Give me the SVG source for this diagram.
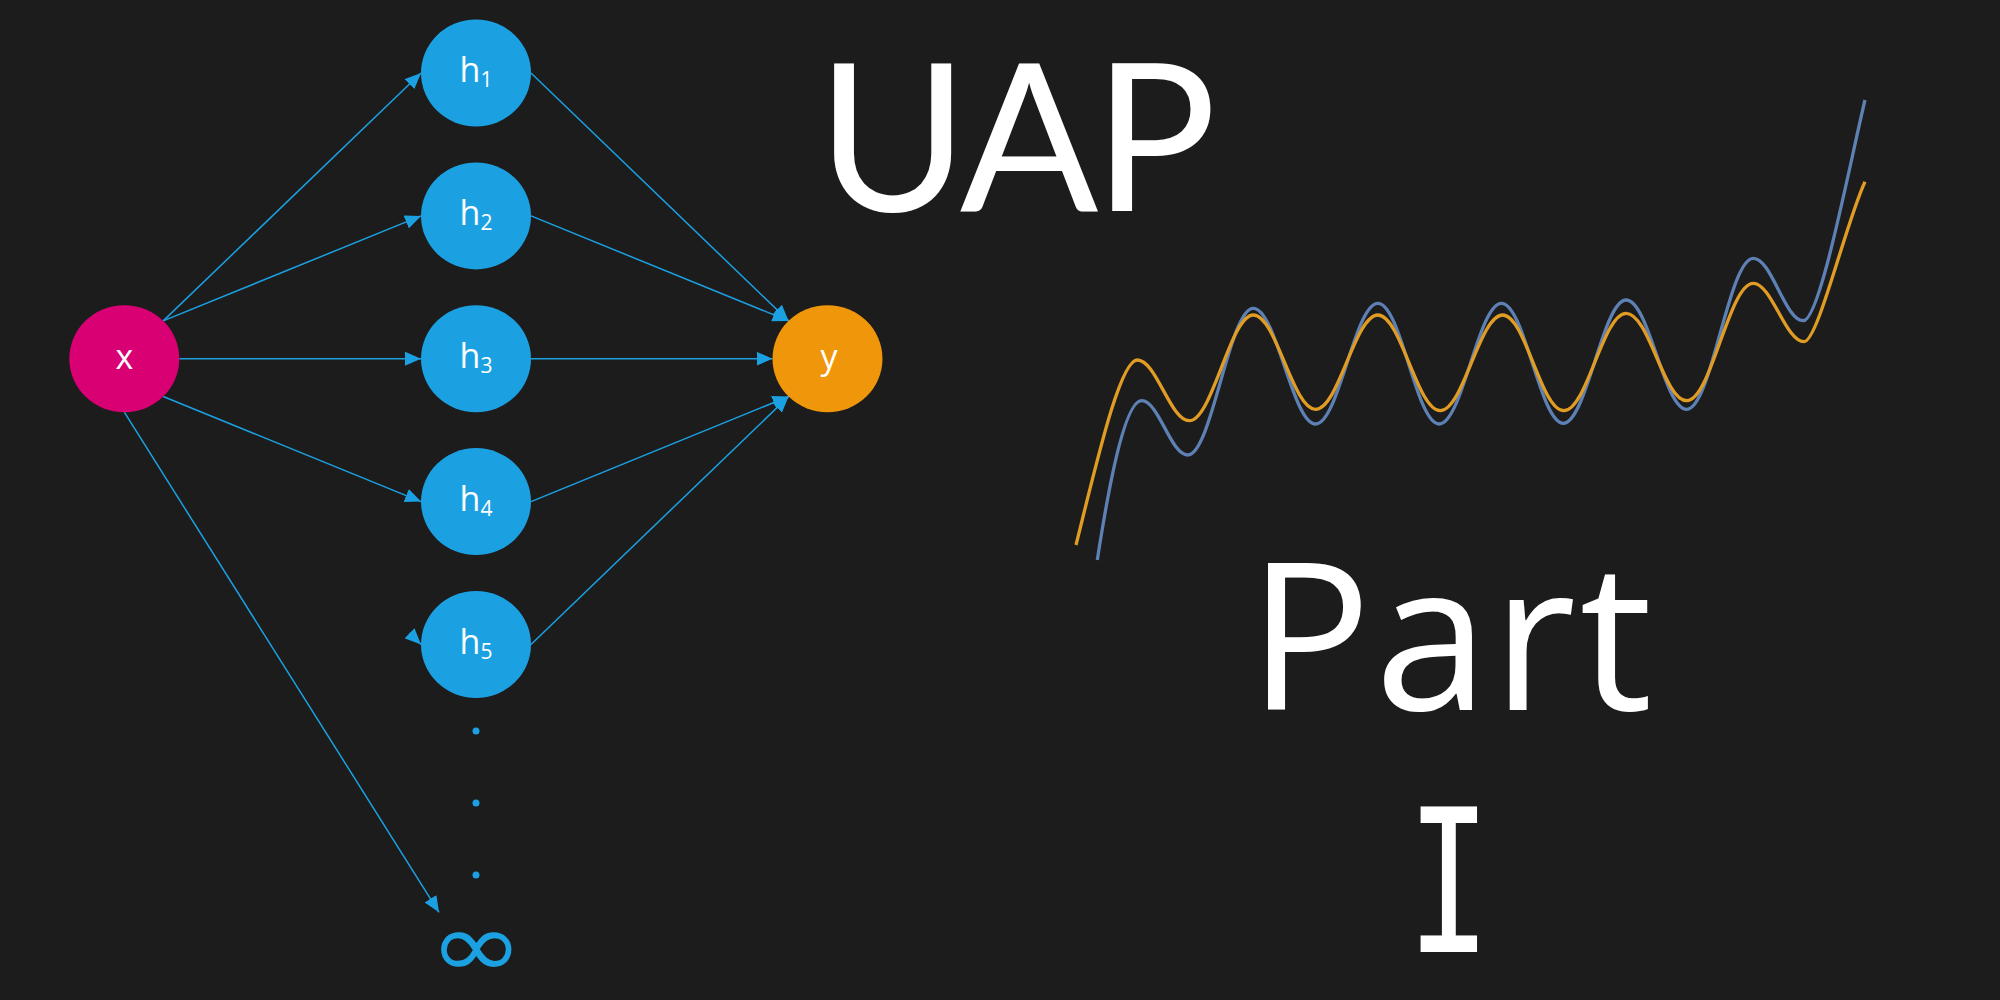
<svg xmlns="http://www.w3.org/2000/svg" width="2000" height="1000" viewBox="0 0 2000 1000">
  <defs>
    <style>
      .bg { fill: #1c1c1c; }
      .hid { fill: #1ba1e2; }
      .inp { fill: #d80073; }
      .out { fill: #f0960a; }
      .lbl { fill: #ffffff; font-family: "Open Sans", "Noto Sans", "Liberation Sans", sans-serif; font-size: 34px; text-anchor: middle; }
      .sub { font-size: 21px; }
      .edge { stroke: #1ba1e2; stroke-width: 1.5; fill: none; marker-end: url(#arrow); }
      .dot { fill: #1ba1e2; }
      .inf { fill: #1ba1e2; font-family: "DejaVu Sans", sans-serif; font-size: 92px; text-anchor: middle; }
      .title { fill: #ffffff; font-family: "Open Sans", "Noto Sans", "Liberation Sans", sans-serif; font-size: 205px; letter-spacing: 3.5px; }
      .head { fill: #ffffff; font-family: Lato, "Open Sans", sans-serif; font-size: 205px; text-anchor: middle; letter-spacing: -5px; }
      .roman { fill: #ffffff; font-family: "DejaVu Sans Mono", monospace; font-size: 199px; text-anchor: middle; }
      .curve { fill: none; stroke-width: 3.3; stroke-linejoin: round; stroke-linecap: butt; }
      .c-true { stroke: #5e81b5; }
      .c-fit { stroke: #e19c24; }
    </style>
    <marker id="arrow" markerUnits="userSpaceOnUse" viewBox="0 0 16 14" refX="16" refY="7" markerWidth="16" markerHeight="14" orient="auto">
      <path d="M0,0 L16,7 L0,14 z" fill="#1ba1e2"/>
    </marker>
  </defs>

  <rect class="bg" x="0" y="0" width="2000" height="1000"/>

  <!-- connectors -->
  <g id="edges">
    <path class="edge" d="M163.2,320.9 L421,73"/>
    <path class="edge" d="M163.2,320.9 L421,215.9"/>
    <path class="edge" d="M179.3,358.7 L421,358.7"/>
    <path class="edge" d="M163.2,396.5 L421,501.6"/>
    <path class="edge" d="M409.4,633.1 L421,644.5"/>
    <path class="edge" d="M124.3,412.2 L439,912.3"/>
    <path class="edge" d="M531,73 L788.6,320.9"/>
    <path class="edge" d="M531,215.9 L788.6,320.9"/>
    <path class="edge" d="M531,358.7 L772.5,358.7"/>
    <path class="edge" d="M531,501.6 L788.6,396.5"/>
    <path class="edge" d="M531,644.5 L788.6,396.5"/>
  </g>

  <!-- input node -->
  <g id="node-x">
    <ellipse class="inp" cx="124.3" cy="358.7" rx="55" ry="53.5"/>
    <text class="lbl" x="124.3" y="369">x</text>
  </g>

  <!-- hidden units -->
  <g id="node-h1">
    <ellipse class="hid" cx="476" cy="73" rx="55" ry="53.5"/>
    <text class="lbl" x="476" y="82">h<tspan class="sub" dy="5">1</tspan></text>
  </g>
  <g id="node-h2">
    <ellipse class="hid" cx="476" cy="215.9" rx="55" ry="53.5"/>
    <text class="lbl" x="476" y="224.9">h<tspan class="sub" dy="5">2</tspan></text>
  </g>
  <g id="node-h3">
    <ellipse class="hid" cx="476" cy="358.7" rx="55" ry="53.5"/>
    <text class="lbl" x="476" y="367.7">h<tspan class="sub" dy="5">3</tspan></text>
  </g>
  <g id="node-h4">
    <ellipse class="hid" cx="476" cy="501.6" rx="55" ry="53.5"/>
    <text class="lbl" x="476" y="510.6">h<tspan class="sub" dy="5">4</tspan></text>
  </g>
  <g id="node-h5">
    <ellipse class="hid" cx="476" cy="644.5" rx="55" ry="53.5"/>
    <text class="lbl" x="476" y="653.5">h<tspan class="sub" dy="5">5</tspan></text>
  </g>

  <!-- ellipsis towards infinitely many units -->
  <g id="node-more">
    <circle class="dot" cx="476" cy="731" r="3.5"/>
    <circle class="dot" cx="476" cy="803" r="3.5"/>
    <circle class="dot" cx="476" cy="875" r="3.5"/>
    <text class="inf" transform="translate(476.3,977) scale(1.235,1)" x="0" y="0">∞</text>
  </g>

  <!-- output node -->
  <g id="node-y">
    <ellipse class="out" cx="827.5" cy="358.7" rx="55" ry="53.5"/>
    <text class="lbl" x="829" y="369">y</text>
  </g>

  <!-- titles -->
  <text class="head" x="1014.5" y="211">UAP</text>
  <text class="title" x="1248" y="710">Part</text>
  <text class="roman" transform="translate(1449,952) scale(0.7,1)" x="0" y="0">I</text>

  <!-- target function and network approximation -->
  <g id="plot">
    <path class="curve c-true" d="M1097.3,560 C1103.5,520 1122,400.7 1141.7,400.7
      C1158.7,400.7 1170.7,455 1187.7,455
      C1211.7,455 1229.3,308.3 1253.3,308.3
      C1276.3,308.3 1292.6,424 1315.6,424
      C1338.6,424 1354.9,303.3 1377.9,303.3
      C1400.9,303.3 1416.2,424 1439.2,424
      C1462.2,424 1478.5,303.3 1501.5,303.3
      C1524.5,303.3 1540.3,423.3 1563.3,423.3
      C1586.3,423.3 1603.1,300 1626.1,300
      C1649.1,300 1663.8,409.3 1686.8,409.3
      C1711.3,409.3 1728.8,258.3 1753.3,258.3
      C1771.7,258.3 1784.9,320.7 1803.3,320.7
      C1820,320.7 1849,167 1865,100"/>
    <path class="curve c-fit" d="M1076,545 C1097,461 1120,360 1137.3,360
      C1156.3,360 1170.3,420.7 1189.3,420.7
      C1212.3,420.7 1230.3,315 1253.3,315
      C1276.3,315 1292.6,409.3 1315.6,409.3
      C1338.6,409.3 1354.9,315 1377.9,315
      C1400.9,315 1417.2,410.7 1440.2,410.7
      C1463.2,410.7 1479.6,315 1502.6,315
      C1525.6,315 1540.8,410.7 1563.8,410.7
      C1586.8,410.7 1603.1,313.3 1626.1,313.3
      C1649.1,313.3 1663.8,400.7 1686.8,400.7
      C1711.3,400.7 1728.8,283.3 1753.3,283.3
      C1771.7,283.3 1785.6,341.7 1804,341.7
      C1818,341.7 1846,222 1865,181.7"/>
  </g>
</svg>
